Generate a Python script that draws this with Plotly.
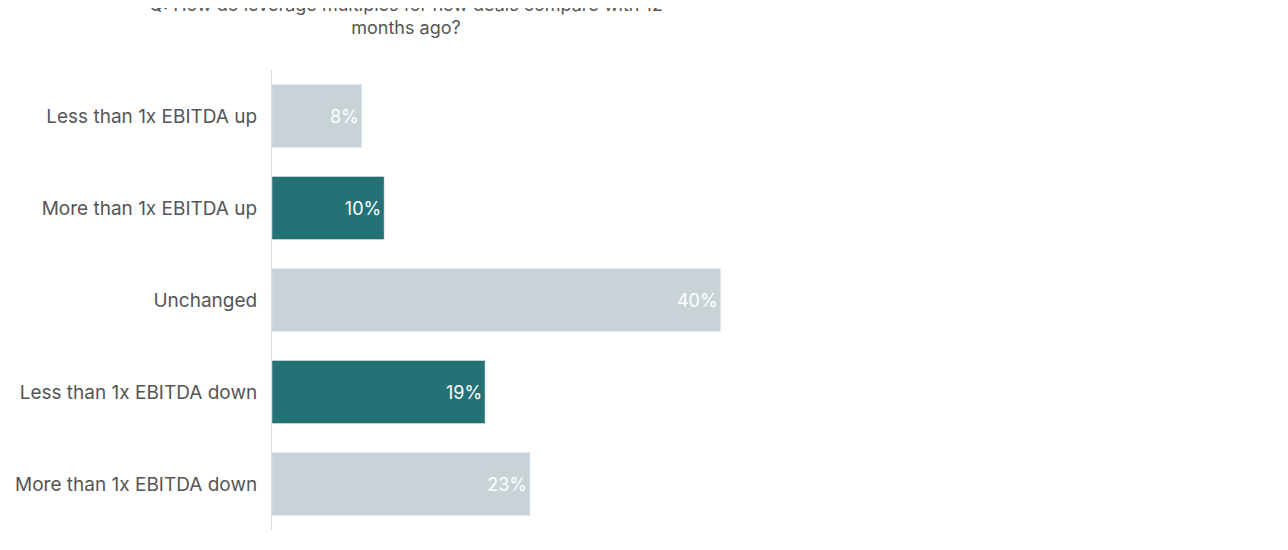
import plotly.graph_objects as go

categories = ["Less than 1x EBITDA up", "More than 1x EBITDA up", "Unchanged",
              "Less than 1x EBITDA down", "More than 1x EBITDA down"]
values = [8, 10, 40, 19, 23]
colors = ["#c8d3d8", "#257276", "#c8d3d8", "#257276", "#c8d3d8"]

fig = go.Figure(go.Bar(
    x=values, y=categories, orientation="h",
    marker=dict(color=colors),
    text=[f"{v}%" for v in values], textposition="inside", insidetextanchor="end",
    textfont=dict(color="white", size=18, family="Inter"),
))

fig.update_layout(
    width=1288, height=550,
    margin=dict(l=264, r=0, t=62, b=28),
    plot_bgcolor="white", paper_bgcolor="white",
    bargap=0.315,
    showlegend=False,
    font=dict(family="Inter", color="#555555"),
    title=dict(text="Q: How do leverage multiples for new deals compare with 12<br>months ago?",
               x=398 / 1288, xanchor="center", yref="container", y=0.995, yanchor="top",
               font=dict(size=18, color="#555555")),
    xaxis=dict(range=[0, 91.3], visible=False),
    yaxis=dict(autorange="reversed", tickfont=dict(size=19, color="#555555"),
               showline=True, linecolor="#dddddd", linewidth=1, ticks="",
               ticklabelstandoff=10),
)

fig.write_html("out.html")
